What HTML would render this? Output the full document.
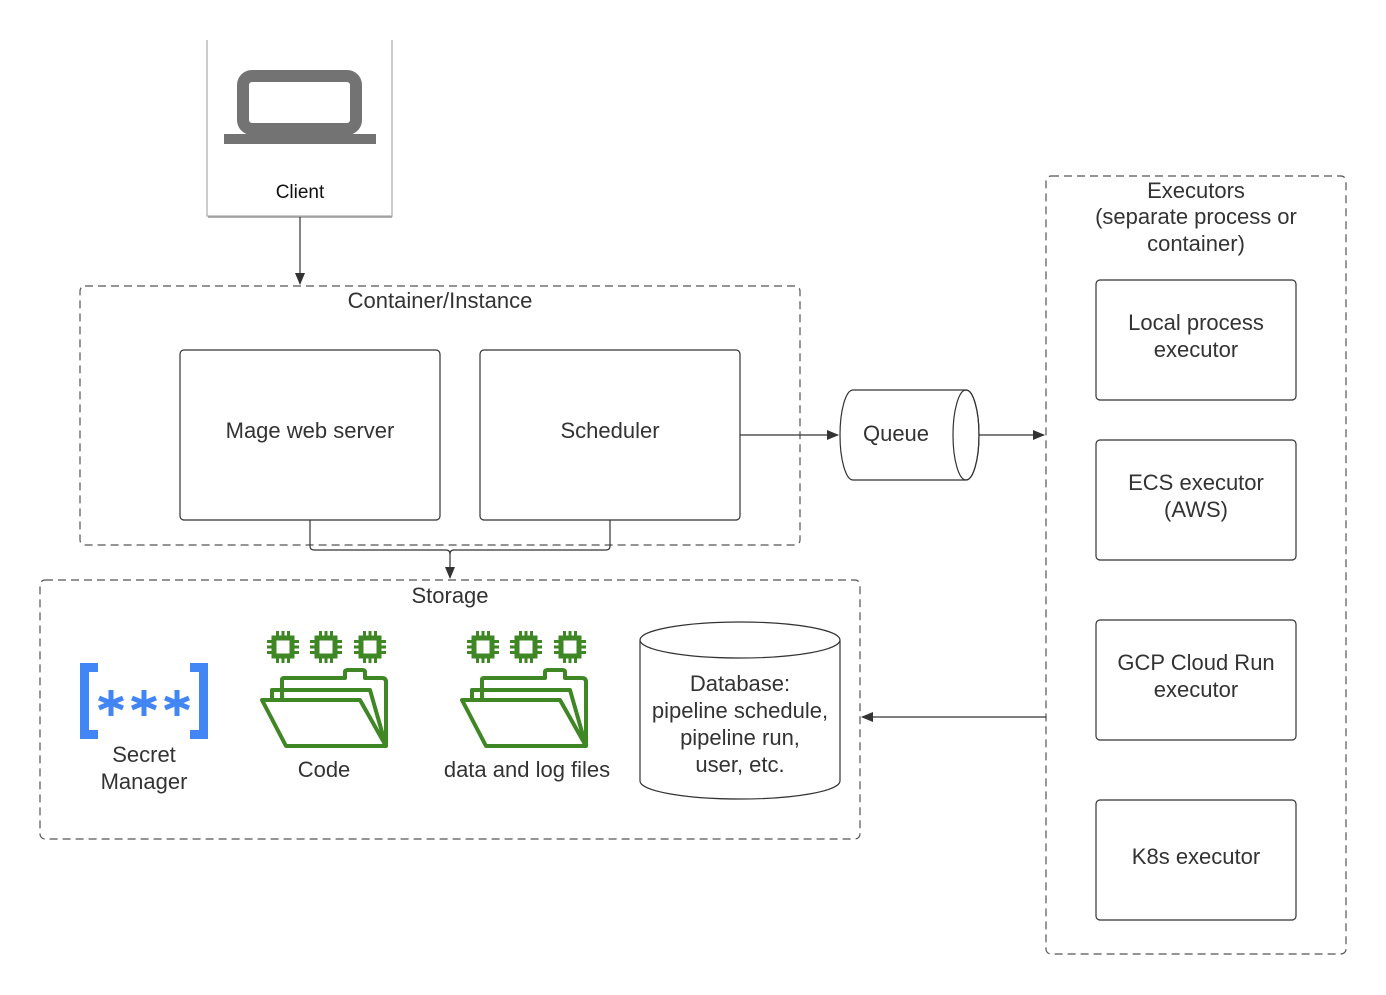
<!DOCTYPE html>
<html><head><style>body{margin:0;background:#fff}svg{display:block}text{font-family:"Liberation Sans",sans-serif;fill:#333}</style></head><body>
<svg width="1386" height="995" viewBox="0 0 1386 995" xmlns="http://www.w3.org/2000/svg">
<defs>
<marker id="ar" markerWidth="12" markerHeight="10" refX="11" refY="5" orient="auto" markerUnits="userSpaceOnUse"><path d="M0,0 L12,5 L0,10 z" fill="#333"/></marker>
<g id="chip"><rect x="-9" y="-9" width="18" height="18" fill="none" stroke="#3f8624" stroke-width="5"/>
<g fill="#3f8624"><rect x="-7" y="-16" width="3" height="5"/><rect x="-1.5" y="-16" width="3" height="5"/><rect x="4" y="-16" width="3" height="5"/>
<rect x="-7" y="11" width="3" height="5"/><rect x="-1.5" y="11" width="3" height="5"/><rect x="4" y="11" width="3" height="5"/>
<rect y="-7" x="-16" height="3" width="5"/><rect y="-1.5" x="-16" height="3" width="5"/><rect y="4" x="-16" height="3" width="5"/>
<rect y="-7" x="11" height="3" width="5"/><rect y="-1.5" x="11" height="3" width="5"/><rect y="4" x="11" height="3" width="5"/></g></g>
<g id="folder" fill="none" stroke="#3f8624" stroke-width="4" stroke-linejoin="round">
<path d="M22,80 V60 Q22,58 24,58 L85,58 V52 Q85,50 88,50 L102,50 Q105,50 105,52 V58 L122,58 Q126,58 126,62 V126"/>
<path d="M12,80 V70 L110,70 L126,126"/>
<path d="M2,80 L100,80 L126,126 L26,126 Z"/>
</g>
</defs>
<path d="M207,40 V216 H392 V40" fill="#fff" stroke="#bbb" stroke-width="1.5"/>
<line x1="208" y1="217" x2="392" y2="217" stroke="#999" stroke-width="1.5"/>
<rect x="243" y="76" width="113" height="53" rx="9" fill="none" stroke="#737373" stroke-width="12"/>
<rect x="224" y="134" width="152" height="10" fill="#737373"/>
<text x="300" y="198" text-anchor="middle" font-size="19" style="fill:#111">Client</text>
<line x1="300" y1="217" x2="300" y2="284" stroke="#333" stroke-width="1.2" marker-end="url(#ar)"/>
<rect x="80" y="286" width="720" height="259" rx="5" fill="none" stroke="#555" stroke-width="1.2" stroke-dasharray="8,5"/>
<text x="440" y="308" text-anchor="middle" font-size="22">Container/Instance</text>
<rect x="180" y="350" width="260" height="170" rx="4" fill="#fff" stroke="#333" stroke-width="1.2"/>
<text x="310" y="438" text-anchor="middle" font-size="22">Mage web server</text>
<rect x="480" y="350" width="260" height="170" rx="4" fill="#fff" stroke="#333" stroke-width="1.2"/>
<text x="610" y="438" text-anchor="middle" font-size="22">Scheduler</text>
<path d="M310,520 V546 Q310,550 314,550 H446 Q450,550 450,554 V578" fill="none" stroke="#333" stroke-width="1.2" marker-end="url(#ar)"/>
<path d="M610,520 V546 Q610,550 606,550 H454 Q450,550 450,554" fill="none" stroke="#333" stroke-width="1.2"/>
<line x1="740" y1="435" x2="838" y2="435" stroke="#333" stroke-width="1.2" marker-end="url(#ar)"/>
<path d="M853,390 H966 A13,45 0 0 1 966,480 H853 A13,45 0 0 1 853,390 Z" fill="#fff" stroke="#333" stroke-width="1.2"/>
<ellipse cx="966" cy="435" rx="13" ry="45" fill="none" stroke="#333" stroke-width="1.2"/>
<text x="896" y="441" text-anchor="middle" font-size="22">Queue</text>
<line x1="979" y1="435" x2="1044" y2="435" stroke="#333" stroke-width="1.2" marker-end="url(#ar)"/>
<rect x="1046" y="176" width="300" height="778" rx="5" fill="none" stroke="#555" stroke-width="1.2" stroke-dasharray="8,5"/>
<text x="1196" y="198" text-anchor="middle" font-size="22">Executors</text>
<text x="1196" y="224" text-anchor="middle" font-size="22">(separate process or</text>
<text x="1196" y="251" text-anchor="middle" font-size="22">container)</text>
<rect x="1096" y="280" width="200" height="120" rx="4" fill="#fff" stroke="#333" stroke-width="1.2"/>
<text x="1196" y="330" text-anchor="middle" font-size="22">Local process</text><text x="1196" y="357" text-anchor="middle" font-size="22">executor</text>
<rect x="1096" y="440" width="200" height="120" rx="4" fill="#fff" stroke="#333" stroke-width="1.2"/>
<text x="1196" y="490" text-anchor="middle" font-size="22">ECS executor</text><text x="1196" y="517" text-anchor="middle" font-size="22">(AWS)</text>
<rect x="1096" y="620" width="200" height="120" rx="4" fill="#fff" stroke="#333" stroke-width="1.2"/>
<text x="1196" y="670" text-anchor="middle" font-size="22">GCP Cloud Run</text><text x="1196" y="697" text-anchor="middle" font-size="22">executor</text>
<rect x="1096" y="800" width="200" height="120" rx="4" fill="#fff" stroke="#333" stroke-width="1.2"/>
<text x="1196" y="864" text-anchor="middle" font-size="22">K8s executor</text>
<line x1="1046" y1="717" x2="862" y2="717" stroke="#333" stroke-width="1.2" marker-end="url(#ar)"/>
<rect x="40" y="580" width="820" height="259" rx="5" fill="none" stroke="#555" stroke-width="1.2" stroke-dasharray="8,5"/>
<text x="450" y="603" text-anchor="middle" font-size="22">Storage</text>
<g fill="#4285f4"><path d="M80,663 H98 V672 H89 V730 H98 V739 H80 Z"/><path d="M208,663 H190 V672 H199 V730 H190 V739 H208 Z"/></g>
<g stroke="#4285f4" stroke-width="5" stroke-linecap="butt">
<g transform="translate(111,703)"><line x1="0" y1="-13" x2="0" y2="13"/><line x1="-12" y1="-5" x2="12" y2="5"/><line x1="-12" y1="5" x2="12" y2="-5"/></g>
<g transform="translate(144,703)"><line x1="0" y1="-13" x2="0" y2="13"/><line x1="-12" y1="-5" x2="12" y2="5"/><line x1="-12" y1="5" x2="12" y2="-5"/></g>
<g transform="translate(177,703)"><line x1="0" y1="-13" x2="0" y2="13"/><line x1="-12" y1="-5" x2="12" y2="5"/><line x1="-12" y1="5" x2="12" y2="-5"/></g>
</g>
<text x="144" y="762" text-anchor="middle" font-size="22">Secret</text><text x="144" y="789" text-anchor="middle" font-size="22">Manager</text>
<use href="#chip" x="283" y="647"/><use href="#chip" x="326" y="647"/><use href="#chip" x="370" y="647"/>
<g transform="translate(260,620)"><use href="#folder"/></g>
<text x="324" y="777" text-anchor="middle" font-size="22">Code</text>
<use href="#chip" x="483" y="647"/><use href="#chip" x="526" y="647"/><use href="#chip" x="570" y="647"/>
<g transform="translate(460,620)"><use href="#folder"/></g>
<text x="527" y="777" text-anchor="middle" font-size="22">data and log files</text>
<path d="M640,640 V781 A100,18 0 0 0 840,781 V640" fill="#fff" stroke="#333" stroke-width="1.2"/>
<ellipse cx="740" cy="640" rx="100" ry="18" fill="#fff" stroke="#333" stroke-width="1.2"/>
<text x="740" y="691" text-anchor="middle" font-size="22">Database:</text>
<text x="740" y="718" text-anchor="middle" font-size="22">pipeline schedule,</text>
<text x="740" y="745" text-anchor="middle" font-size="22">pipeline run,</text>
<text x="740" y="772" text-anchor="middle" font-size="22">user, etc.</text>
</svg>
</body></html>
